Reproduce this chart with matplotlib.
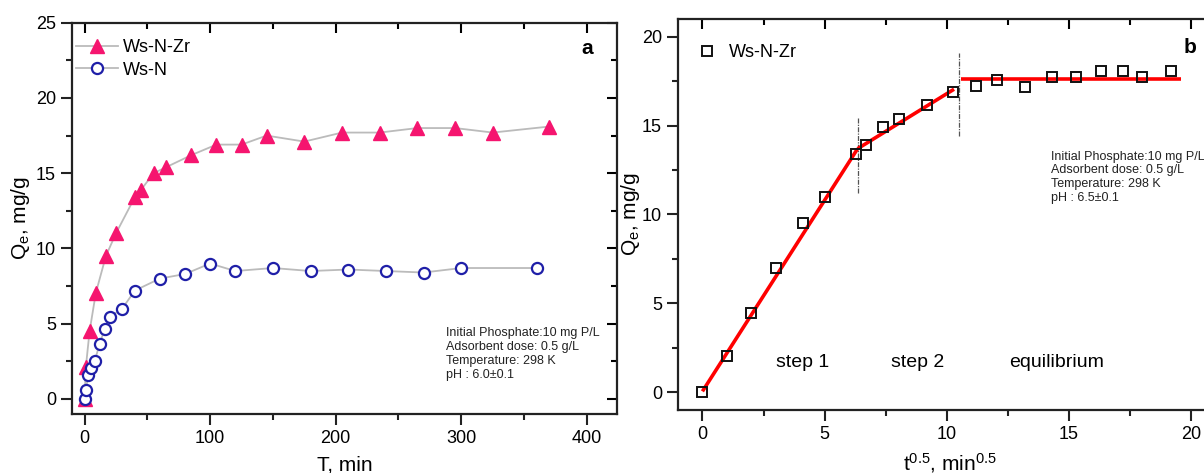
import matplotlib.pyplot as plt
import numpy as np
from matplotlib.ticker import MultipleLocator

plt.rcParams['font.family'] = ['Liberation Sans', 'DejaVu Sans']
plt.rcParams['mathtext.fontset'] = 'custom'
plt.rcParams['mathtext.rm'] = 'Liberation Sans'
plt.rcParams['mathtext.it'] = 'Liberation Sans'

# Panel a: kinetics, T (min) vs Qe (mg/g)
zr_t = [0, 1, 4, 9, 17, 25, 40, 45, 55, 65, 85, 105, 125, 145, 175, 205, 235, 265, 295, 325, 370]
zr_q = [0, 2.1, 4.5, 7.05, 9.5, 11.0, 13.4, 13.9, 15.0, 15.4, 16.2, 16.9, 16.9, 17.5, 17.1,
        17.7, 17.7, 18.0, 18.0, 17.7, 18.1]
n_t = [0, 1, 3, 5, 8, 12, 16, 20, 30, 40, 60, 80, 100, 120, 150, 180, 210, 240, 270, 300, 360]
n_q = [0, 0.6, 1.6, 2.05, 2.5, 3.65, 4.65, 5.45, 6.0, 7.2, 8.0, 8.3, 9.0, 8.5, 8.7, 8.5,
       8.6, 8.5, 8.4, 8.7, 8.7]

# Panel b: intraparticle diffusion, t^0.5 vs Qe
b_x = [0, 1, 2, 3, 4.1, 5, 6.3, 6.7, 7.4, 8.05, 9.2, 10.25, 11.2, 12.05, 13.2, 14.3, 15.3,
       16.3, 17.2, 18.0, 19.2]
b_q = [0, 2.05, 4.45, 7.0, 9.5, 11.0, 13.4, 13.9, 14.95, 15.35, 16.15, 16.9, 17.25, 17.55,
       17.15, 17.75, 17.75, 18.05, 18.05, 17.75, 18.1]

# fitted segments
fit1_x, fit1_y = [0, 6.35], [0.05, 13.7]
fit2_x, fit2_y = [6.35, 10.3], [13.7, 17.05]
fit3_x, fit3_y = [10.6, 19.6], [17.65, 17.65]
div_x = [6.35, 10.5]
div_lo = [11.2, 14.4]
div_hi = [15.5, 19.1]

steps = ['step 1', 'step 2', 'equilibrium']
steps_x = [4.1, 8.8, 14.5]

cond_a = 'Initial Phosphate:10 mg P/L\nAdsorbent dose: 0.5 g/L\nTemperature: 298 K\npH : 6.0\u00b10.1'
cond_b = 'Initial Phosphate:10 mg P/L\nAdsorbent dose: 0.5 g/L\nTemperature: 298 K\npH : 6.5\u00b10.1'

W, H = 1204, 473
fig = plt.figure(figsize=(W / 100, H / 100), dpi=100)
ax1 = fig.add_axes([72 / W, 1 - 414 / H, (617 - 72) / W, (414 - 22.7) / H])
ax2 = fig.add_axes([678 / W, 1 - 410 / H, (1222 - 678) / W, (410 - 19) / H])


def style(ax, right_ticks=True):
    for s in ax.spines.values():
        s.set_linewidth(1.6)
        s.set_color('#222222')
    ax.tick_params(which='both', labelsize=13, width=1.5, color='#222222')
    ax.tick_params(which='major', length=8)
    ax.tick_params(which='minor', length=4.5)
    ax.tick_params(axis='x', which='both', direction='out', top=False)
    ax.tick_params(axis='y', which='both', direction='out', right=False)
    sec_x = ax.secondary_xaxis('top')
    sec_x.set_xticks(ax.get_xticks())
    sec_x.tick_params(direction='in', labeltop=False, length=7, width=1.5)
    sec_x.xaxis.set_minor_locator(ax.xaxis.get_minor_locator())
    sec_x.tick_params(which='minor', direction='in', length=4, width=1.5)
    sec_x.spines['top'].set_visible(False)
    if right_ticks:
        sec_y = ax.secondary_yaxis('right')
        sec_y.set_yticks(ax.get_yticks())
        sec_y.tick_params(direction='in', labelright=False, length=7, width=1.5)
        sec_y.yaxis.set_minor_locator(ax.yaxis.get_minor_locator())
        sec_y.tick_params(which='minor', direction='in', length=4, width=1.5)
        sec_y.spines['right'].set_visible(False)


cond_font = dict(fontsize=9, linespacing=1.22, va='top', ha='left', color='#222222')

# ---- panel a
ax1.plot(zr_t, zr_q, color='#bbbbbb', lw=1.3, marker='^', ms=10, mfc='#f5156f',
         mec='#f5156f', label='Ws-N-Zr', zorder=2)
ax1.plot(n_t, n_q, color='#bbbbbb', lw=1.3, marker='o', ms=8, mfc='white',
         mec='#1f1fa8', mew=1.6, label='Ws-N', zorder=3)
ax1.set_xlim(-10, 424)
ax1.set_ylim(-1, 25)
ax1.xaxis.set_major_locator(MultipleLocator(100))
ax1.xaxis.set_minor_locator(MultipleLocator(50))
ax1.yaxis.set_major_locator(MultipleLocator(5))
ax1.yaxis.set_minor_locator(MultipleLocator(2.5))
ax1.set_xlabel('T, min', fontsize=15, labelpad=6)
ax1.set_ylabel('Q$_e$, mg/g', fontsize=15, labelpad=3)
style(ax1)
ax1.legend(loc='upper left', frameon=False, fontsize=13, handlelength=2.3,
           handletextpad=0.3, labelspacing=0.3, borderaxespad=0, borderpad=0,
           bbox_to_anchor=(0.008, 0.958))
ax1.text(0.946, 0.933, 'a', transform=ax1.transAxes, fontsize=15, fontweight='bold',
         ha='center', va='center')
ax1.text(288, 4.75, cond_a, **cond_font)

# ---- panel b
ax2.plot(b_x, b_q, ls='none', marker='s', ms=7, mfc='none', mec='#111111', mew=1.4,
         label='Ws-N-Zr', zorder=4)
for fx, fy in [(fit1_x, fit1_y), (fit2_x, fit2_y), (fit3_x, fit3_y)]:
    ax2.plot(fx, fy, color='#ff0000', lw=2.6, solid_capstyle='butt', zorder=3)
ax2.vlines(div_x, div_lo, div_hi, colors='#555555', linestyles=(0, (4, 1, 1, 1)), lw=0.9)
ax2.set_xlim(-1, (1222 - 702) / 24.45)
ax2.set_ylim(-1, 21)
ax2.xaxis.set_major_locator(MultipleLocator(5))
ax2.xaxis.set_minor_locator(MultipleLocator(2.5))
ax2.yaxis.set_major_locator(MultipleLocator(5))
ax2.yaxis.set_minor_locator(MultipleLocator(2.5))
ax2.set_xlabel('t$^{0.5}$, min$^{0.5}$', fontsize=15, labelpad=6)
ax2.set_ylabel('Q$_e$, mg/g', fontsize=15, labelpad=0)
style(ax2, right_ticks=False)
ax2.legend(loc='upper left', frameon=False, fontsize=13, handlelength=1.0,
           handletextpad=0.7, borderaxespad=0, borderpad=0,
           bbox_to_anchor=(0.037, 0.936))
for s, sx in zip(steps, steps_x):
    ax2.text(sx, 1.7, s, fontsize=14, ha='center', va='center')
ax2.text(512 / 544, 0.926, 'b', transform=ax2.transAxes, fontsize=15, fontweight='bold',
         ha='center', va='center')
ax2.text(14.27, 13.6, cond_b, **cond_font)

fig.savefig('out.png', dpi=100)
